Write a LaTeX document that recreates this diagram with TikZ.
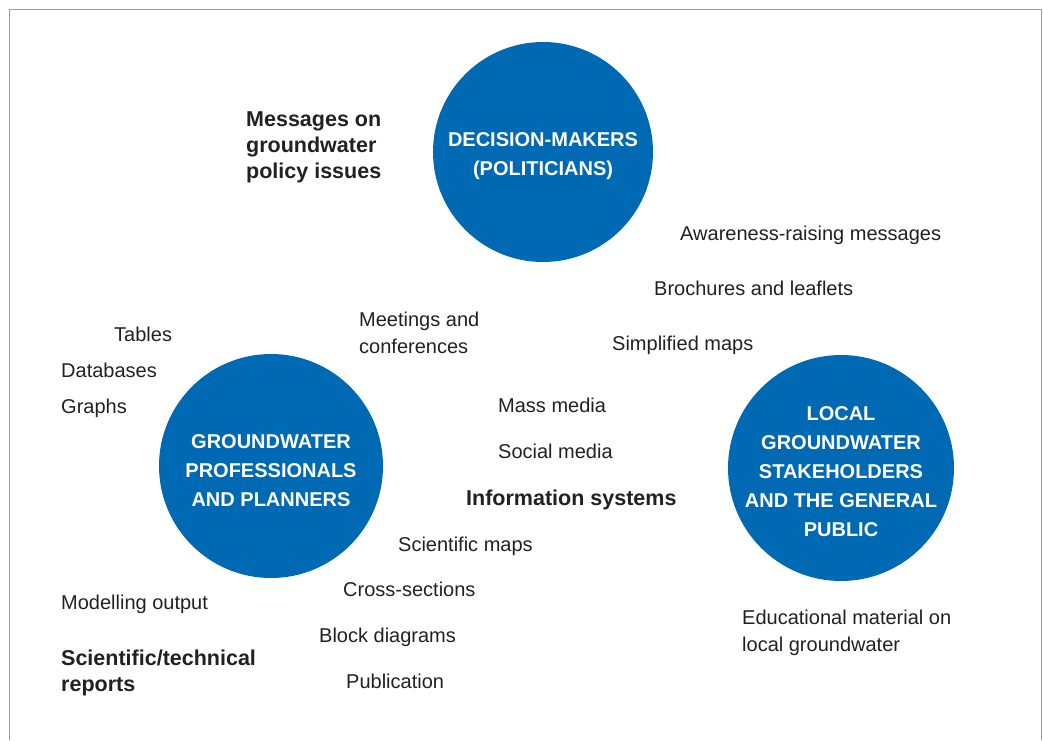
\documentclass[tikz,border=0pt]{standalone}
\usepackage{fontspec}
\setmainfont{Liberation Sans}
\definecolor{gwblue}{RGB}{0,105,180}
\definecolor{gwtext}{RGB}{33,33,33}
\definecolor{gwframe}{RGB}{120,164,218}
\tikzset{
  bubble/.style={circle, fill=gwblue, text=white, align=center, inner sep=-15pt,
    text depth=0pt, font=\fontsize{20}{29}\selectfont\bfseries},
  item/.style={anchor=base west, inner sep=0pt, text=gwtext,
    font=\fontsize{20}{27}\selectfont},
  heading/.style={item, align=left, font=\fontsize{21.5}{26}\selectfont\bfseries},
}
\begin{document}
\begin{tikzpicture}[x=1pt, y=-1pt]
  \useasboundingbox (0,0) rectangle (1043,740);
  %% Frame, open at the bottom
  \draw[gwframe, line width=1.5pt] (9.5,740) -- (9.5,9.5) -- (1041.5,9.5) -- (1041.5,740);
  %% Target audiences
  \node[bubble, minimum size=220pt, text height=46pt] (decision) at (543,152)
    {DECISION-MAKERS\\(POLITICIANS)};
  \node[bubble, minimum size=224pt, text height=80pt] (profs) at (271,466)
    {GROUNDWATER\\PROFESSIONALS\\AND PLANNERS};
  \node[bubble, minimum size=226pt, text height=136pt] (public) at (841,468)
    {LOCAL\\GROUNDWATER\\STAKEHOLDERS\\AND THE GENERAL\\PUBLIC};
  %% Single-line products: name/x/baseline/text
  \foreach \nm/\x/\y/\lbl in {
      tables/114/341/Tables,
      databases/61/377/Databases,
      graphs/61/413/Graphs,
      awareness/680/240/Awareness-raising messages,
      brochures/654/295/Brochures and leaflets,
      simplemaps/612/350/Simplified maps,
      massmedia/498/412/Mass media,
      socialmedia/498/458/Social media,
      scimaps/398/551/Scientific maps,
      xsections/343/596/Cross-sections,
      blockdiag/319/642/Block diagrams,
      publication/346/688/Publication,
      modelling/61/609/Modelling output}{
    \node[item] (\nm) at (\x,\y) {\lbl};
  }
  %% Two-line products (anchored on the last baseline)
  \node[item, align=left] (meetings) at (359,353) {Meetings and\\conferences};
  \node[item, align=left] (education) at (742,651) {Educational material on\\local groundwater};
  %% Bold headings
  \node[heading] (policy) at (246,178) {Messages on\\groundwater\\policy issues};
  \node[heading] (infosys) at (466,505) {Information systems};
  \node[heading] (reports) at (61,691) {Scientific/technical\\reports};
\end{tikzpicture}
\end{document}
